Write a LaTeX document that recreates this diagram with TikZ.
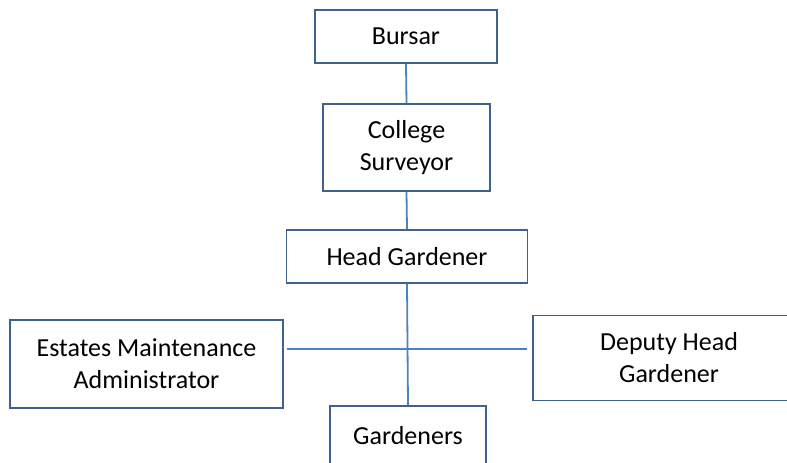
\documentclass[tikz,border=0pt]{standalone}
\usepackage{fontspec}
\setmainfont{Carlito}
\definecolor{boxline}{HTML}{41608A}
\definecolor{linkline}{HTML}{4F81BD}
\begin{document}
\begin{tikzpicture}[x=1pt,y=1pt,
  orgbox/.style={draw=boxline, line width=1.8pt, rectangle, align=center, inner sep=0pt,
    font=\fontsize{26}{32}\selectfont},
  link/.style={draw=linkline, line width=1.8pt}]
\useasboundingbox (0,0) rectangle (787,-463);
\node[orgbox, minimum width=182, minimum height=53] (bursar) at (406,-36.5) {Bursar};
\node[orgbox, minimum width=167, minimum height=87] (surveyor) at (406.5,-147.5) {College\\Surveyor};
\node[orgbox, minimum width=241, minimum height=53] (head) at (407,-256.5) {Head Gardener};
\node[orgbox, minimum width=273, minimum height=88] (ema) at (146.5,-364) {Estates Maintenance\\Administrator};
\node[orgbox, minimum width=272, minimum height=85] (deputy) at (669,-358) {Deputy Head\\Gardener};
\node[orgbox, minimum width=156, minimum height=64, text depth=0pt] (gard) at (408,-438) {};
\node[font=\fontsize{26}{32}\selectfont] (gardtext) at (408,-436) {Gardeners};
\draw[link] (bursar.south) -- (surveyor.north);
\draw[link] (surveyor.south) -- (head.north);
\draw[link] (head.south) -- (gard.north);
\coordinate (hl) at (ema.east |- 0,-349);
\coordinate (hr) at (deputy.west |- 0,-349);
\draw[link, shorten <=3pt, shorten >=5pt] (hl) -- (hr);
\end{tikzpicture}
\end{document}
